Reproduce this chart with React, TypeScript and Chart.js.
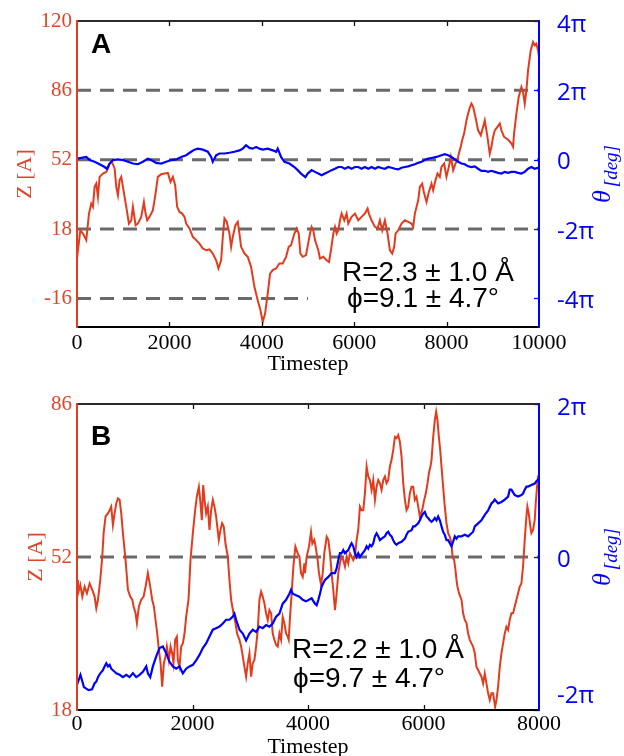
import React, { useEffect, useRef } from "react";
import { Chart, registerables } from "chart.js";

Chart.register(...registerables);

const SERIF = "'Liberation Serif', 'Times New Roman', Times, serif";
const SANS = "'Liberation Sans', Arial, Helvetica, sans-serif";
const LABEL_SANS = "'Open Sans', 'Liberation Sans', Arial, sans-serif";

const RED = "#e23c1e";
const RED_TEXT = "#e0462a";
const BLUE = "#0000ff";
const GRAY = "#6a6a6a";

// ---------- Panel A: 10000 timesteps ----------
const stepsZA = [
  0, 71, 129, 201, 259, 309, 345, 381, 417, 453, 489, 561, 634, 670, 706, 756, 814, 850, 886, 922,
  958, 994, 1066, 1124, 1174, 1210, 1268, 1318, 1390, 1448, 1484, 1520, 1570, 1642, 1700, 1750, 1823, 1895, 1967, 2024,
  2075, 2125, 2168, 2219, 2277, 2327, 2363, 2435, 2507, 2579, 2651, 2723, 2795, 2867, 2939, 3012, 3062, 3120, 3156, 3192,
  3242, 3300, 3336, 3372, 3429, 3480, 3516, 3552, 3624, 3696, 3768, 3840, 3912, 3970, 4020, 4071, 4128, 4179, 4237, 4309,
  4381, 4453, 4525, 4582, 4633, 4705, 4755, 4799, 4835, 4885, 4957,
  5043, 5079, 5115, 5151, 5223, 5259, 5331, 5403, 5454, 5497, 5548, 5584, 5620, 5656, 5692, 5728, 5785, 5836, 5872, 5944,
  6016, 6088, 6160, 6232, 6290, 6318, 6376, 6448, 6506, 6556, 6607, 6664, 6722, 6773, 6823, 6866, 6895, 6953, 7025, 7097,
  7169, 7241, 7277, 7313, 7385, 7421, 7472, 7515, 7565, 7616, 7673, 7709, 7760, 7803, 7853, 7889, 7947, 7997, 8048, 8091,
  8142, 8192, 8235, 8264, 8307, 8336, 8379, 8430, 8466, 8502, 8538, 8574, 8624, 8682, 8740, 8790, 8826, 8884, 8934, 8970,
  9006, 9043, 9100, 9151, 9187, 9244, 9295, 9345, 9403, 9439, 9460, 9511, 9561, 9619, 9655, 9691, 9727, 9763, 9821, 9871,
  9907, 9943, 9979, 10000,
];
const zA = [
  3.6, 17.4, 15.8, 12.6, 25.6, 30.5, 28.9, 38.7, 40.3, 33.8, 43.6, 45.2, 46.0, 47.7, 50.1, 50.9, 47.7, 38.7, 34.6, 42.0,
  43.6, 38.7, 28.9, 20.7, 22.3, 28.9, 19.9, 20.7, 24.0, 31.3, 25.6, 22.3, 24.0, 27.2, 35.4, 43.6, 44.9, 45.2, 45.5, 41.1,
  43.6, 39.5, 28.9, 26.4, 25.6, 24.0, 20.7, 18.3, 14.2, 12.6, 10.9, 8.5, 7.6, 8.0, 6.0, 2.7, -1.3, 2.7, 14.2, 23.2,
  21.5, 15.8, 9.3, 14.2, 19.9, 21.5, 15.8, 9.3, 6.0, 4.4, -0.5, -10.3, -16.9, -21.7, -27.5, -23.4, -13.6, -3.8, -2.1, -1.3,
  1.1, 1.1, 4.4, 9.3, 10.1, 15.8, 18.3, 15.8, 6.0, 4.4, 5.2,
  15.8, 19.1, 17.4, 12.6, 7.6, 3.6, 4.4, 2.7, 1.9, 7.6, 15.8, 19.1, 15.8, 17.4, 22.3, 25.6, 22.3, 25.6, 20.7, 24.0,
  25.6, 22.3, 24.0, 25.6, 28.1, 25.6, 22.3, 19.1, 18.3, 22.3, 17.4, 22.3, 15.8, 7.6, 6.0, 9.3, 15.8, 17.4, 20.7, 22.3,
  21.5, 20.7, 19.1, 25.6, 32.1, 38.7, 40.3, 35.4, 31.3, 36.2, 40.3, 37.0, 42.0, 45.2, 43.6, 48.5, 50.1, 43.6, 48.5, 53.4,
  46.8, 50.1, 51.7, 55.0, 58.3, 61.5, 64.8, 71.3, 74.6, 77.6, 79.5, 77.9, 73.0, 66.4, 64.0, 68.1, 71.3, 63.2, 55.0, 58.3,
  63.2, 66.4, 68.1, 69.7, 66.4, 63.2, 62.4, 61.5, 59.9, 58.3, 64.8, 74.6, 82.8, 87.7, 85.2, 79.5, 86.0, 95.8, 105.6, 109.7,
  108.1, 108.9, 105.6, 102.4,
];
// θ in units of π
const stepsThetaA = [
  0, 201, 273, 381, 489, 598, 648, 706, 778, 886, 994, 1102, 1210, 1318, 1426, 1534, 1606, 1714, 1823, 1931,
  2039, 2147, 2255, 2363, 2471, 2543, 2615, 2723, 2831, 2903, 2939, 3012, 3084, 3192, 3300, 3408, 3516, 3588, 3660, 3732,
  3804, 3877, 3948, 4020, 4128, 4237, 4309, 4345, 4417, 4489, 4597, 4705, 4777, 4849, 4943, 4993,
  5079, 5151, 5223, 5295, 5367, 5439, 5511, 5584, 5656, 5728, 5800, 5872, 5944, 6016, 6088, 6160, 6232, 6304, 6376, 6448,
  6520, 6592, 6664, 6737, 6809, 6881, 6953, 7025, 7097, 7169, 7241, 7313, 7385, 7457, 7529, 7601, 7673, 7781, 7889, 7961,
  8034, 8106, 8178, 8250, 8322, 8394, 8466, 8538, 8610, 8682, 8754, 8826, 8898, 8970, 9043, 9115, 9187, 9259, 9331, 9403,
  9475, 9547, 9619, 9691, 9763, 9835, 9907, 9979, 10000,
];
const thetaA = [
  0.03, 0.08, -0.01, -0.06, -0.13, -0.21, -0.26, -0.11, -0.01, 0.01, -0.01, -0.06, -0.11, -0.13, -0.06, 0.03, -0.01, -0.09, -0.11, -0.06,
  -0.01, 0.01, 0.08, 0.13, 0.23, 0.29, 0.32, 0.29, 0.23, 0.08, -0.06, 0.13, 0.18, 0.18, 0.2, 0.23, 0.27, 0.32, 0.42, 0.34,
  0.32, 0.37, 0.32, 0.29, 0.32, 0.27, 0.23, 0.32, 0.08, -0.06, -0.11, -0.21, -0.3, -0.4, -0.5, -0.4,
  -0.3, -0.35, -0.4, -0.45, -0.4, -0.35, -0.3, -0.26, -0.21, -0.21, -0.26, -0.21, -0.26, -0.21, -0.21, -0.26, -0.21, -0.26, -0.21, -0.26,
  -0.21, -0.24, -0.26, -0.21, -0.23, -0.26, -0.28, -0.23, -0.21, -0.19, -0.16, -0.13, -0.09, -0.06, -0.01, 0.03, 0.05, 0.08, 0.13, 0.16,
  0.13, 0.08, 0.01, -0.06, -0.11, -0.13, -0.19, -0.21, -0.19, -0.26, -0.32, -0.32, -0.35, -0.32, -0.35, -0.38, -0.4, -0.35, -0.38, -0.35,
  -0.35, -0.38, -0.4, -0.35, -0.26, -0.21, -0.26, -0.23, -0.26,
];

// ---------- Panel B: 8000 timesteps ----------
const stepsZB = [
  0, 17, 57, 92, 132, 172, 219, 265, 305, 334, 363, 403, 438, 461, 495, 536, 565, 593, 622, 651,
  680, 709, 738, 766, 795, 841, 882, 922, 957, 980, 1014, 1037, 1072, 1112, 1153, 1187, 1227, 1268, 1302, 1331,
  1360, 1389, 1418, 1447, 1475, 1504, 1533, 1556, 1591, 1620, 1648, 1671, 1700, 1729, 1746, 1775, 1804, 1833, 1862, 1890,
  1931, 1965, 2006, 2046, 2075, 2110, 2133, 2162, 2185, 2208, 2236, 2265, 2294, 2323, 2352, 2380, 2409, 2455, 2484, 2513,
  2542, 2571, 2611, 2640, 2669, 2709, 2744, 2772, 2813, 2842, 2871, 2899, 2928, 2957, 2986, 3015, 3043, 3072, 3101, 3130,
  3159, 3188, 3216, 3245, 3274, 3303, 3332, 3361, 3389, 3418, 3447, 3476, 3505, 3534, 3562, 3591, 3620, 3649, 3666, 3689,
  3724, 3747, 3781, 3822, 3851, 3879, 3908, 3937,
  3948, 3977, 4017, 4052, 4075, 4109, 4132, 4167, 4190, 4225, 4254, 4282, 4323, 4352, 4380, 4409, 4438, 4467, 4496, 4525,
  4553, 4582, 4611, 4640, 4669, 4697, 4726, 4755, 4784, 4813, 4842, 4870, 4899, 4928, 4957, 4986, 5015, 5043, 5072, 5101,
  5130, 5159, 5187, 5216, 5245, 5274, 5303, 5332, 5360, 5389, 5418, 5447, 5476, 5505, 5533, 5562, 5591, 5620, 5649, 5678,
  5706, 5735, 5764, 5793, 5822, 5850, 5879, 5908, 5937, 5977, 6012, 6041, 6070, 6093, 6121, 6139, 6168, 6196, 6219, 6242,
  6266, 6289, 6312, 6340, 6369, 6398, 6427, 6456, 6485, 6502, 6531, 6554, 6571, 6588, 6617, 6658, 6686, 6715, 6744, 6773,
  6802, 6831, 6859, 6888, 6917, 6946, 6975, 7003, 7032, 7061, 7090, 7119, 7148, 7176, 7205, 7223, 7240, 7263, 7292, 7321,
  7349, 7378, 7407, 7436, 7465, 7493, 7522, 7551, 7580, 7609, 7637, 7666, 7695, 7724, 7753, 7782, 7799, 7822, 7851, 7868,
  7897, 7926, 7943, 7966, 7983, 8000,
];
const zB = [
  46.9, 43.9, 45.8, 43.2, 45.4, 43.9, 46.1, 44.7, 43.2, 40.6, 42.5, 46.9, 52.1, 57.3, 61.0, 61.7, 62.4, 63.2, 59.1, 61.7,
  63.9, 65.0, 64.7, 61.7, 57.3, 51.3, 44.7, 43.2, 42.5, 41.0, 39.5, 37.3, 41.0, 42.5, 43.2, 45.4, 48.4, 45.4, 42.5, 41.0,
  38.0, 35.0, 31.3, 28.4, 23.2, 28.4, 29.9, 32.1, 29.1, 32.1, 30.6, 28.4, 33.6, 34.3, 29.1, 27.6, 32.1, 32.8, 35.0, 38.7,
  42.5, 51.3, 57.3, 62.4, 65.4, 67.6, 64.7, 60.2, 68.0, 64.7, 61.7, 63.2, 58.0, 62.4, 64.7, 63.2, 61.0, 55.8, 58.0, 59.5,
  58.7, 55.0, 52.1, 46.9, 42.5, 39.5, 37.3, 35.0, 33.6, 32.1, 29.9, 27.6, 25.4, 28.4, 30.6, 25.4, 28.4, 29.1, 32.1, 35.8,
  42.5, 44.3, 43.2, 41.7, 39.5, 38.0, 40.2, 39.5, 35.0, 33.6, 32.5, 32.1, 35.0, 33.6, 38.7, 37.3, 35.0, 34.3, 33.6, 38.7,
  45.4, 49.9, 54.3, 52.8, 52.1, 48.4, 47.6, 50.6,
  48.4, 52.1, 54.3, 57.6, 55.0, 55.8, 54.3, 51.3, 48.4, 45.8, 48.4, 52.8, 56.5, 55.8, 52.8, 48.4, 44.7, 40.2, 43.9, 48.4,
  50.6, 52.1, 51.3, 49.9, 52.1, 50.6, 52.8, 52.1, 51.3, 52.1, 55.8, 58.0, 63.2, 62.4, 62.4, 66.2, 72.1, 69.9, 69.1, 66.9,
  69.1, 64.7, 67.6, 69.1, 68.4, 66.9, 69.1, 69.9, 68.4, 69.1, 72.1, 73.6, 75.8, 78.7, 78.4, 79.1, 77.6, 74.3, 68.4, 64.7,
  62.4, 63.2, 66.2, 67.6, 67.6, 64.7, 65.4, 63.2, 61.0, 62.4, 64.7, 66.2, 68.4, 70.6, 72.1, 73.6, 78.7, 82.4, 84.3, 82.4,
  78.7, 75.8, 72.1, 67.6, 63.2, 59.5, 57.3, 56.5, 55.0, 52.1, 51.3, 49.1, 46.9, 45.4, 43.9, 42.5, 39.5, 38.0, 37.3, 35.0,
  33.6, 32.8, 32.1, 30.6, 27.6, 26.9, 26.1, 25.4, 23.9, 26.1, 23.9, 21.7, 20.2, 21.7, 21.7, 20.2, 18.7, 20.2, 23.2, 27.6,
  30.6, 32.8, 35.0, 36.5, 35.8, 38.0, 39.5, 39.5, 41.0, 42.5, 43.9, 45.4, 46.1, 49.9, 55.8, 61.0, 63.2, 61.7, 58.7, 57.3,
  58.0, 60.2, 63.9, 67.6, 69.9, 69.9,
];
const stepsThetaB = [
  0, 60, 120, 200, 260, 305, 334, 363, 403, 449, 478, 507, 536, 565, 593, 622, 651, 680, 738, 795,
  853, 910, 968, 1026, 1083, 1141, 1199, 1227, 1268, 1314, 1372, 1429, 1487, 1545, 1602, 1660, 1718, 1775, 1833, 1890,
  1948, 2006, 2063, 2121, 2179, 2236, 2294, 2352, 2409, 2467, 2525, 2582, 2640, 2698, 2726, 2755, 2813, 2871, 2928, 2986,
  3043, 3101, 3159, 3216, 3274, 3332, 3389, 3447, 3505, 3562, 3620, 3678, 3706, 3735, 3793, 3851, 3908, 3966,
  4063, 4121, 4150, 4179, 4207, 4236, 4265, 4294, 4352, 4409, 4467, 4496, 4525, 4553, 4582, 4611, 4640, 4697, 4726, 4755,
  4784, 4813, 4842, 4870, 4899, 4928, 4986, 5015, 5043, 5072, 5101, 5130, 5159, 5187, 5216, 5245, 5274, 5332, 5360, 5389,
  5418, 5447, 5476, 5505, 5533, 5562, 5620, 5649, 5678, 5706, 5735, 5793, 5822, 5850, 5908, 5937, 5966, 5995, 6023, 6052,
  6081, 6110, 6139, 6168, 6196, 6225, 6254, 6283, 6312, 6340, 6369, 6398, 6427, 6456, 6485, 6513, 6542, 6571, 6600, 6658,
  6715, 6773, 6831, 6859, 6888, 6917, 6946, 7003, 7061, 7119, 7176, 7205, 7234, 7292, 7349, 7407, 7465, 7493, 7522, 7580,
  7637, 7695, 7724, 7753, 7782, 7810, 7868, 7926, 7954, 7983, 8000,
];
const thetaB = [
  -1.67, -1.54, -1.7, -1.74, -1.73, -1.65, -1.63, -1.57, -1.52, -1.48, -1.43, -1.39, -1.43, -1.41, -1.46, -1.48, -1.5, -1.52, -1.54, -1.57,
  -1.54, -1.57, -1.52, -1.57, -1.54, -1.5, -1.43, -1.52, -1.57, -1.43, -1.3, -1.19, -1.17, -1.26, -1.37, -1.43, -1.46, -1.43, -1.52, -1.46,
  -1.43, -1.41, -1.35, -1.28, -1.19, -1.13, -1.04, -0.95, -0.93, -0.91, -0.87, -0.82, -0.82, -0.78, -0.74, -0.82, -0.95, -1.0, -1.09, -1.0,
  -0.95, -0.98, -0.91, -0.93, -0.89, -0.91, -0.87, -0.78, -0.74, -0.61, -0.56, -0.48, -0.43, -0.48, -0.5, -0.52, -0.56, -0.58,
  -0.54, -0.61, -0.63, -0.56, -0.48, -0.39, -0.34, -0.3, -0.26, -0.21, -0.21, -0.15, -0.04, 0.05, 0.05, 0.09, 0.05, 0.09, 0.14, 0.18,
  0.14, 0.05, 0.0, 0.05, 0.0, 0.03, 0.09, 0.14, 0.11, 0.16, 0.14, 0.18, 0.27, 0.31, 0.27, 0.22, 0.24, 0.27, 0.31, 0.33,
  0.29, 0.27, 0.22, 0.18, 0.16, 0.18, 0.2, 0.22, 0.24, 0.29, 0.33, 0.35, 0.4, 0.4, 0.44, 0.48, 0.53, 0.57, 0.59, 0.53,
  0.51, 0.48, 0.46, 0.48, 0.51, 0.48, 0.53, 0.48, 0.4, 0.33, 0.29, 0.22, 0.22, 0.18, 0.14, 0.2, 0.27, 0.24, 0.27, 0.27,
  0.29, 0.27, 0.31, 0.33, 0.4, 0.42, 0.44, 0.48, 0.55, 0.61, 0.7, 0.72, 0.75, 0.7, 0.72, 0.75, 0.79, 0.88, 0.88, 0.81,
  0.79, 0.81, 0.83, 0.88, 0.92, 0.92, 0.94, 0.96, 0.99, 1.01, 1.03,
];

// Axis ticks and reference levels
const zTicksA = [-16, 18, 52, 86, 120];
const zTicksB = [18, 52, 86];
const thetaTicksA = [4, 2, 0, -2, -4];
const thetaTicksB = [2, 0, -2];
const guideLevelsA = [86, 52, 18, -16];
const guideEndsA = [10000, 10000, 10000, 5000];
const guideLevelsB = [52];
const guideEndsB = [8000];
const statsA = ["R=2.3 ± 1.0 Å", "ϕ=9.1 ± 4.7°"];
const statsB = ["R=2.2 ± 1.0 Å", "ϕ=9.7 ± 4.7°"];

type Layout = {
  areaTop: number;
  xAxisH: number;
  xTickPad: number;
  zTitleX: number;
  titleBaseline: number;
  statsX: number[];
  statsY: number[];
  letterY: number;
};

type PanelSpec = {
  letter: string;
  xMax: number;
  zMin: number;
  zMax: number;
  zTicks: number[];
  thetaMin: number;
  thetaMax: number;
  thetaTicks: number[];
  stepsZ: number[];
  z: number[];
  stepsTheta: number[];
  theta: number[];
  guideLevels: number[];
  guideEnds: number[];
  stats: string[];
  layout: Layout;
};

// Z and θ share the scale: 52 ↔ 0 and 34 units ↔ 2π
const toThetaUnits = (zv: number) => (zv - 52) / 17;

const panelA: PanelSpec = {
  letter: "A",
  xMax: 10000,
  zMin: -30,
  zMax: 120,
  zTicks: zTicksA,
  thetaMin: toThetaUnits(-30),
  thetaMax: toThetaUnits(120),
  thetaTicks: thetaTicksA,
  stepsZ: stepsZA,
  z: zA,
  stepsTheta: stepsThetaA,
  theta: thetaA,
  guideLevels: guideLevelsA,
  guideEnds: guideEndsA,
  stats: statsA,
  layout: {
    areaTop: 21,
    xAxisH: 51,
    xTickPad: 3,
    zTitleX: 24,
    titleBaseline: 370,
    statsX: [342, 347],
    statsY: [281, 307],
    letterY: 53,
  },
};

const panelB: PanelSpec = {
  letter: "B",
  xMax: 8000,
  zMin: 18,
  zMax: 86,
  zTicks: zTicksB,
  thetaMin: toThetaUnits(18),
  thetaMax: toThetaUnits(86),
  thetaTicks: thetaTicksB,
  stepsZ: stepsZB,
  z: zB,
  stepsTheta: stepsThetaB,
  theta: thetaB,
  guideLevels: guideLevelsB,
  guideEnds: guideEndsB,
  stats: statsB,
  layout: {
    areaTop: 26,
    xAxisH: 46,
    xTickPad: 1,
    zTitleX: 35,
    titleBaseline: 375,
    statsX: [292, 293],
    statsY: [280, 309],
    letterY: 67,
  },
};

const W = 624;
const H = 378;

function toPoints(xs: number[], ys: number[]) {
  const n = Math.min(xs.length, ys.length);
  const out: { x: number; y: number }[] = [];
  for (let i = 0; i < n; i++) out.push({ x: xs[i], y: ys[i] });
  return out;
}

function thetaLabel(v: number) {
  if (v === 0) return "0";
  return `${v}π`;
}

function makeDecor(spec: PanelSpec) {
  return {
    id: "panelDecor",
    afterDraw(chart: any) {
      const { ctx, chartArea: a, scales } = chart;
      const xs = scales.x;
      const yr = scales.yR;
      const L = spec.layout;
      ctx.save();

      // inward tick marks on the top and bottom frame
      ctx.strokeStyle = "#111";
      ctx.lineWidth = 1.3;
      for (let v = 2000; v < spec.xMax; v += 2000) {
        const px = Math.round(xs.getPixelForValue(v)) + 0.5;
        ctx.beginPath();
        ctx.moveTo(px, a.top);
        ctx.lineTo(px, a.top + 5);
        ctx.moveTo(px, a.bottom);
        ctx.lineTo(px, a.bottom - 5);
        ctx.stroke();
      }

      // inward tick marks on the θ axis
      ctx.strokeStyle = BLUE;
      for (const v of spec.thetaTicks) {
        const py = Math.round(yr.getPixelForValue(v)) + 0.5;
        ctx.beginPath();
        ctx.moveTo(a.right, py);
        ctx.lineTo(a.right - 5, py);
        ctx.stroke();
      }

      // frame
      ctx.lineWidth = 2;
      ctx.strokeStyle = "#2a2a2a";
      ctx.beginPath();
      ctx.moveTo(a.left, a.top);
      ctx.lineTo(a.right, a.top);
      ctx.stroke();
      ctx.strokeStyle = "#000";
      ctx.beginPath();
      ctx.moveTo(a.left, a.bottom);
      ctx.lineTo(a.right + 1, a.bottom);
      ctx.stroke();
      ctx.strokeStyle = RED;
      ctx.beginPath();
      ctx.moveTo(a.left, a.top - 1);
      ctx.lineTo(a.left, a.bottom + 1);
      ctx.stroke();
      ctx.strokeStyle = BLUE;
      ctx.beginPath();
      ctx.moveTo(a.right, a.top - 1);
      ctx.lineTo(a.right, a.bottom + 1);
      ctx.stroke();

      // θ tick labels
      ctx.fillStyle = BLUE;
      ctx.font = `24px ${LABEL_SANS}`;
      ctx.textAlign = "left";
      ctx.textBaseline = "alphabetic";
      for (const v of spec.thetaTicks) {
        let py = yr.getPixelForValue(v);
        py = Math.max(a.top + 1.5, Math.min(a.bottom - 16.5, py));
        ctx.fillText(thetaLabel(v), a.right + 18, py + 9.5);
      }

      const cy = (a.top + a.bottom) / 2;

      // left axis title
      ctx.save();
      ctx.translate(L.zTitleX + 7, cy);
      ctx.rotate(-Math.PI / 2);
      ctx.fillStyle = RED_TEXT;
      ctx.font = `22px ${SERIF}`;
      ctx.textAlign = "center";
      ctx.fillText("Z [A]", 0, 0);
      ctx.restore();

      // right axis title θ_[deg]
      ctx.save();
      ctx.translate(610, cy - 1);
      ctx.rotate(-Math.PI / 2);
      ctx.fillStyle = BLUE;
      ctx.textAlign = "left";
      ctx.font = `italic 26px ${SERIF}`;
      const th = "θ";
      ctx.fillText(th, -30, 0);
      const tw = ctx.measureText(th).width;
      ctx.font = `italic 19px ${SERIF}`;
      ctx.fillText("[deg]", -30 + tw + 3, 6.5);
      ctx.restore();

      // panel letter
      ctx.fillStyle = "#000";
      ctx.font = `bold 28px ${SANS}`;
      ctx.textAlign = "left";
      ctx.fillText(spec.letter, 91, L.letterY);

      // statistics
      ctx.font = `28px ${SANS}`;
      spec.stats.forEach((s, i) => ctx.fillText(s, L.statsX[i], L.statsY[i]));

      // x axis title
      ctx.font = `22px ${SERIF}`;
      ctx.textAlign = "center";
      ctx.fillStyle = "#000";
      ctx.fillText("Timestep", (a.left + a.right) / 2, L.titleBaseline);

      ctx.restore();
    },
  };
}

function buildConfig(spec: PanelSpec): any {
  const L = spec.layout;
  const xTickVals: number[] = [];
  for (let v = 0; v <= spec.xMax; v += 2000) xTickVals.push(v);

  const guides = spec.guideLevels.map((lv, i) => ({
    label: `guide${i}`,
    data: [
      { x: 0, y: lv },
      { x: spec.guideEnds[i], y: lv },
    ],
    yAxisID: "yL",
    borderColor: GRAY,
    borderWidth: 3,
    borderDash: [14, 9],
    borderCapStyle: "butt",
    pointRadius: 0,
    fill: false,
    order: 3,
  }));

  return {
    type: "line",
    data: {
      datasets: [
        {
          label: "Z",
          data: toPoints(spec.stepsZ, spec.z),
          yAxisID: "yL",
          borderColor: RED,
          borderWidth: 2,
          pointRadius: 0,
          tension: 0,
          fill: false,
          order: 2,
        },
        {
          label: "θ",
          data: toPoints(spec.stepsTheta, spec.theta),
          yAxisID: "yR",
          borderColor: BLUE,
          borderWidth: 2.2,
          pointRadius: 0,
          tension: 0,
          fill: false,
          order: 1,
        },
        ...guides,
      ],
    },
    options: {
      animation: false,
      responsive: false,
      events: [],
      layout: { padding: { top: L.areaTop, left: 0, right: 0, bottom: 0 } },
      plugins: { legend: { display: false }, tooltip: { enabled: false } },
      scales: {
        x: {
          type: "linear",
          position: "bottom",
          min: 0,
          max: spec.xMax,
          afterBuildTicks: (s: any) => {
            s.ticks = xTickVals.map((v) => ({ value: v }));
          },
          afterFit: (s: any) => {
            s.height = L.xAxisH;
          },
          grid: { display: false, drawTicks: false },
          border: { display: false },
          ticks: {
            color: "#000",
            font: { family: SERIF, size: 22 },
            padding: L.xTickPad,
            maxRotation: 0,
            autoSkip: false,
            callback: (v: any) => String(v),
          },
        },
        yL: {
          type: "linear",
          position: "left",
          min: spec.zMin,
          max: spec.zMax,
          afterBuildTicks: (s: any) => {
            s.ticks = spec.zTicks.map((v) => ({ value: v }));
          },
          afterFit: (s: any) => {
            s.width = 77;
          },
          grid: { display: false, drawTicks: false },
          border: { display: false },
          ticks: {
            color: RED_TEXT,
            font: { family: SERIF, size: 21 },
            padding: 5,
            autoSkip: false,
            callback: (v: any) => String(v),
          },
        },
        yR: {
          type: "linear",
          position: "right",
          min: spec.thetaMin,
          max: spec.thetaMax,
          afterFit: (s: any) => {
            s.width = W - 539;
          },
          grid: { display: false, drawTicks: false },
          border: { display: false },
          ticks: { display: false },
        },
      },
    },
    plugins: [makeDecor(spec)],
  };
}

function Panel({ spec, top }: { spec: PanelSpec; top: number }) {
  const ref = useRef<HTMLCanvasElement | null>(null);
  useEffect(() => {
    if (!ref.current) return;
    const chart = new Chart(ref.current, buildConfig(spec));
    return () => chart.destroy();
  }, [spec]);
  return (
    <canvas
      ref={ref}
      width={W}
      height={H}
      style={{ position: "absolute", left: 0, top, width: W, height: H, display: "block" }}
    />
  );
}

export default function App() {
  return (
    <div
      style={{
        position: "fixed",
        left: 0,
        top: 0,
        width: W,
        height: 2 * H,
        background: "#fff",
        overflow: "hidden",
      }}
    >
      <Panel spec={panelA} top={0} />
      <Panel spec={panelB} top={H} />
    </div>
  );
}
